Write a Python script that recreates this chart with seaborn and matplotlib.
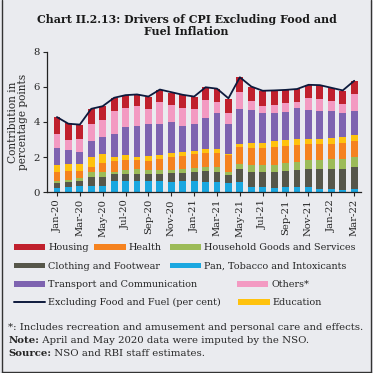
import numpy as np
import pandas as pd
import matplotlib
matplotlib.use("Agg")
import matplotlib.pyplot as plt
from matplotlib.patches import Patch
from matplotlib.lines import Line2D
import seaborn as sns

# Datos (contribuciones en puntos porcentuales)
months = ["Jan-20", "Feb-20", "Mar-20", "Apr-20", "May-20", "Jun-20", "Jul-20", "Aug-20", "Sep-20",
          "Oct-20", "Nov-20", "Dec-20", "Jan-21", "Feb-21", "Mar-21", "Apr-21", "May-21", "Jun-21",
          "Jul-21", "Aug-21", "Sep-21", "Oct-21", "Nov-21", "Dec-21", "Jan-22", "Feb-22", "Mar-22"]

pan_tobacco = [0.21, 0.30, 0.34, 0.34, 0.36, 0.63, 0.63, 0.63, 0.63, 0.63, 0.59, 0.63, 0.63, 0.56,
               0.56, 0.50, 0.56, 0.27, 0.30, 0.25, 0.27, 0.27, 0.27, 0.15, 0.15, 0.11, 0.17]
clothing = [0.29, 0.25, 0.31, 0.50, 0.48, 0.38, 0.38, 0.40, 0.38, 0.40, 0.48, 0.47, 0.53, 0.64,
            0.60, 0.47, 0.75, 0.89, 0.86, 0.91, 0.95, 0.99, 1.02, 1.14, 1.18, 1.22, 1.28]
household = [0.15, 0.13, 0.15, 0.32, 0.30, 0.15, 0.25, 0.27, 0.25, 0.23, 0.19, 0.21, 0.23, 0.25,
             0.29, 0.19, 0.29, 0.38, 0.36, 0.38, 0.46, 0.47, 0.54, 0.54, 0.54, 0.54, 0.57]
health = [0.51, 0.52, 0.42, 0.29, 0.50, 0.62, 0.57, 0.53, 0.54, 0.63, 0.74, 0.75, 0.76, 0.80,
          0.76, 0.95, 0.99, 0.95, 1.01, 1.05, 0.97, 0.97, 0.91, 0.91, 0.87, 0.91, 0.91]
education = [0.38, 0.40, 0.38, 0.53, 0.53, 0.25, 0.28, 0.15, 0.25, 0.22, 0.24, 0.24, 0.21, 0.19,
             0.27, 0.06, 0.15, 0.33, 0.25, 0.32, 0.32, 0.31, 0.27, 0.29, 0.33, 0.34, 0.35]
transport = [0.96, 0.80, 0.70, 0.95, 0.99, 1.29, 1.62, 1.79, 1.83, 1.76, 1.76, 1.49, 1.51, 1.81,
             2.02, 1.71, 1.98, 1.87, 1.75, 1.62, 1.60, 1.79, 1.68, 1.62, 1.58, 1.38, 1.35]
others = [0.81, 0.57, 0.73, 0.96, 0.94, 1.28, 1.09, 1.14, 0.88, 1.25, 0.99, 1.03, 0.87, 1.01,
          0.64, 0.62, 1.00, 0.53, 0.38, 0.44, 0.50, 0.32, 0.66, 0.66, 0.55, 0.51, 0.97]
housing = [0.96, 0.96, 0.80, 0.83, 0.81, 0.77, 0.70, 0.67, 0.65, 0.71, 0.69, 0.72, 0.71, 0.72,
           0.76, 0.80, 0.83, 0.80, 0.88, 0.82, 0.76, 0.75, 0.76, 0.80, 0.72, 0.78, 0.74]
excl_food_fuel = [4.28, 3.90, 3.85, 4.75, 4.90, 5.38, 5.53, 5.57, 5.45, 5.85, 5.70, 5.55, 5.45, 5.98,
                  5.90, 5.35, 6.55, 6.02, 5.78, 5.80, 5.83, 5.88, 6.12, 6.10, 5.95, 5.80, 6.35]

BG = "#eaebef"
SERIF = ["DejaVu Serif"]

sns.set_style("ticks")
plt.rcParams["font.family"] = SERIF
plt.rcParams["axes.facecolor"] = BG
plt.rcParams["figure.facecolor"] = BG

# orden de apilado (de abajo hacia arriba)
stack = [
    ("Pan, Tobacco and Intoxicants", pan_tobacco, "#1aa7e0"),
    ("Clothing and Footwear", clothing, "#56564a"),
    ("Household Goods and Services", household, "#9cbb58"),
    ("Health", health, "#f5821f"),
    ("Education", education, "#ffc20e"),
    ("Transport and Communication", transport, "#7e63b0"),
    ("Others*", others, "#f39ac2"),
    ("Housing", housing, "#c0202d"),
]
colors = {name: c for name, _, c in stack}

df = pd.DataFrame({name: vals for name, vals, _ in stack})
cum = df.cumsum(axis=1)
cum["month"] = months

fig = plt.figure(figsize=(3.73, 3.73), dpi=100)
ax = fig.add_axes([0.126, 0.485, 0.842, 0.376])

# barras apiladas: se dibujan los acumulados de arriba hacia abajo
for name, _, c in reversed(stack):
    sns.barplot(data=cum, x="month", y=name, color=c, width=0.6,
                saturation=1, ax=ax, linewidth=0)

sns.lineplot(x=np.arange(len(months)), y=excl_food_fuel, color="#0d1a3d",
             linewidth=1.3, ax=ax)

ax.set_ylim(0, 8)
ax.set_yticks([0, 2, 4, 6, 8])
ax.set_xlim(-0.87, len(months) - 0.4)
ax.set_xticks(range(0, len(months), 2))
ax.set_xticklabels(months[::2], rotation=90, fontsize=7.2)
ax.tick_params(axis="y", labelsize=7.3, length=3, width=0.8, pad=2)
ax.tick_params(axis="x", length=3, width=0.8, pad=2)
ax.set_xlabel("")
ax.set_ylabel("Contribution in\npercentage points", fontsize=7.6, linespacing=1.0, labelpad=4)
for side in ["top", "right"]:
    ax.spines[side].set_visible(False)
for side in ["left", "bottom"]:
    ax.spines[side].set_linewidth(0.9)
    ax.spines[side].set_color("#222222")

fig.text(0.5, 0.932, "Chart II.2.13: Drivers of CPI Excluding Food and\nFuel Inflation",
         ha="center", va="center", fontsize=7.9, fontweight="bold", linespacing=1.15,
         color="#1a1a1a")

# leyenda (posiciones de cada elemento)
legend_items = [
    ("Housing", 0.037, 0.336),
    ("Health", 0.252, 0.336),
    ("Household Goods and Services", 0.455, 0.336),
    ("Clothing and Footwear", 0.037, 0.286),
    ("Pan, Tobacco and Intoxicants", 0.455, 0.286),
    ("Transport and Communication", 0.037, 0.236),
    ("Others*", 0.635, 0.236),
    ("Excluding Food and Fuel (per cent)", 0.037, 0.188),
    ("Education", 0.638, 0.188),
]
for label, lx, ly in legend_items:
    if label.startswith("Excluding"):
        h = Line2D([], [], color="#0d1a3d", linewidth=1.4)
    else:
        h = Patch(facecolor=colors[label], edgecolor="none")
    fig.legend(handles=[h], labels=[label], loc="center left", bbox_to_anchor=(lx, ly),
               frameon=False, fontsize=6.9, handlelength=3.3, handleheight=0.55,
               handletextpad=0.3, borderpad=0, borderaxespad=0)

# notas al pie
FN = 7.3
fig.text(0.022, 0.123, "*: Includes recreation and amusement and personal care and effects.",
         fontsize=FN, va="center")
fig.canvas.draw()
r = fig.canvas.get_renderer()
for y, bold, rest in [(0.088, "Note:", " April and May 2020 data were imputed by the NSO."),
                      (0.053, "Source:", " NSO and RBI staff estimates.")]:
    t = fig.text(0.022, y, bold, fontsize=FN, fontweight="bold", va="center")
    w = t.get_window_extent(r).width / fig.bbox.width
    fig.text(0.022 + w, y, rest, fontsize=FN, va="center")

# borde del recuadro
for xs, ys in [([0.006, 0.006], [0.0, 1.0]), ([0.994, 0.994], [0.0, 1.0]), ([0.006, 0.994], [0.004, 0.004])]:
    fig.add_artist(Line2D(xs, ys, color="#333333", linewidth=1.0, transform=fig.transFigure))

fig.savefig("out.png", dpi=100, facecolor=BG)
